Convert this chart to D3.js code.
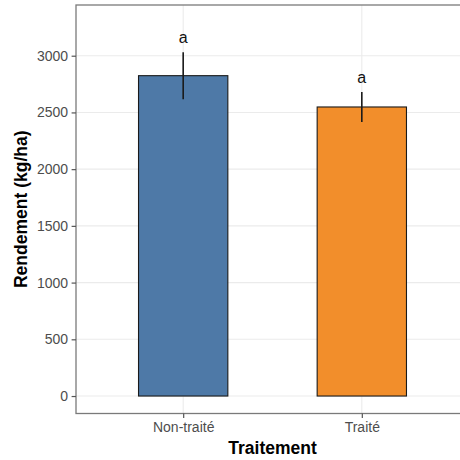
<!DOCTYPE html>
<html>
<head>
<meta charset="utf-8">
<script src="https://cdn.jsdelivr.net/npm/d3@7"></script>
<style>
  html, body { margin: 0; padding: 0; background: #fff; }
  svg { display: block; }
  text { font-family: "Liberation Sans", Arial, sans-serif; }
</style>
</head>
<body>
<svg id="chart" width="460" height="460"></svg>
<script>
// Yield by treatment: mean, standard error and significance group
const categories = ["Non-traité", "Traité"];
const means = [2824, 2548];
const errors = [207, 133];
const groups = ["a", "a"];
const colors = ["#4e79a7", "#f28e2b"];
const yTicks = [0, 500, 1000, 1500, 2000, 2500, 3000];

const svg = d3.select("#chart");
const panel = { left: 76, right: 469, top: 5, bottom: 413.5 };

const x = d3.scalePoint()
  .domain(categories)
  .range([panel.left, panel.right])
  .padding(0.6);
const step = x.step();
const barW = step * 0.5;

const y = d3.scaleLinear()
  .domain([-154, 3447])
  .range([panel.bottom, panel.top]);

const data = categories.map((c, i) => ({
  cat: c, mean: means[i], se: errors[i], group: groups[i], color: colors[i]
}));

// Grid
const grid = svg.append("g");
grid.selectAll("line.h").data(yTicks).join("line")
  .attr("x1", panel.left).attr("x2", panel.right)
  .attr("y1", d => y(d)).attr("y2", d => y(d))
  .attr("stroke", "#ebebeb").attr("stroke-width", 1.1);
grid.selectAll("line.v").data(categories).join("line")
  .attr("x1", d => x(d)).attr("x2", d => x(d))
  .attr("y1", panel.top).attr("y2", panel.bottom)
  .attr("stroke", "#ebebeb").attr("stroke-width", 1.1);

// Bars
svg.append("g").selectAll("rect").data(data).join("rect")
  .attr("x", d => x(d.cat) - barW / 2)
  .attr("width", barW)
  .attr("y", d => y(d.mean))
  .attr("height", d => y(0) - y(d.mean))
  .attr("fill", d => d.color)
  .attr("stroke", "#1a1a1a")
  .attr("stroke-width", 1.1);

// Error bars (mean ± se)
svg.append("g").selectAll("line").data(data).join("line")
  .attr("x1", d => x(d.cat)).attr("x2", d => x(d.cat))
  .attr("y1", d => y(d.mean + d.se)).attr("y2", d => y(d.mean - d.se))
  .attr("stroke", "#1a1a1a").attr("stroke-width", 1.6);

// Group letters above the error bars
svg.append("g").selectAll("text").data(data).join("text")
  .attr("x", d => x(d.cat))
  .attr("y", d => y(d.mean + d.se) - 9)
  .attr("text-anchor", "middle")
  .attr("font-size", 16)
  .attr("fill", "#111")
  .text(d => d.group);

// Panel border
svg.append("rect")
  .attr("x", panel.left).attr("y", panel.top)
  .attr("width", panel.right - panel.left)
  .attr("height", panel.bottom - panel.top)
  .attr("fill", "none")
  .attr("stroke", "#7a7a7a")
  .attr("stroke-width", 1.3);

// Y axis
const yAxis = svg.append("g")
  .attr("transform", `translate(${panel.left},0)`)
  .call(d3.axisLeft(y).tickValues(yTicks).tickSize(4.4).tickPadding(3.5).tickFormat(d3.format("d")));
yAxis.select(".domain").remove();
yAxis.selectAll(".tick line").attr("stroke", "#555").attr("stroke-width", 1.2);
yAxis.selectAll(".tick text")
  .attr("fill", "#4d4d4d")
  .attr("font-size", 14)
  .style("font-family", "'Liberation Sans', Arial, sans-serif");

// X axis
const xAxis = svg.append("g")
  .attr("transform", `translate(0,${panel.bottom})`)
  .call(d3.axisBottom(x).tickSize(4.4).tickPadding(4));
xAxis.select(".domain").remove();
xAxis.selectAll(".tick line").attr("stroke", "#555").attr("stroke-width", 1.2);
xAxis.selectAll(".tick text")
  .attr("fill", "#4d4d4d")
  .attr("font-size", 14)
  .style("font-family", "'Liberation Sans', Arial, sans-serif");

// Axis titles
svg.append("text")
  .attr("x", (panel.left + panel.right) / 2)
  .attr("y", 454)
  .attr("text-anchor", "middle")
  .attr("font-size", 17.5)
  .attr("font-weight", "bold")
  .attr("fill", "#000")
  .text("Traitement");

svg.append("text")
  .attr("transform", `translate(27,${(panel.top + panel.bottom) / 2}) rotate(-90)`)
  .attr("text-anchor", "middle")
  .attr("font-size", 17.5)
  .attr("font-weight", "bold")
  .attr("fill", "#000")
  .text("Rendement (kg/ha)");
</script>
</body>
</html>
